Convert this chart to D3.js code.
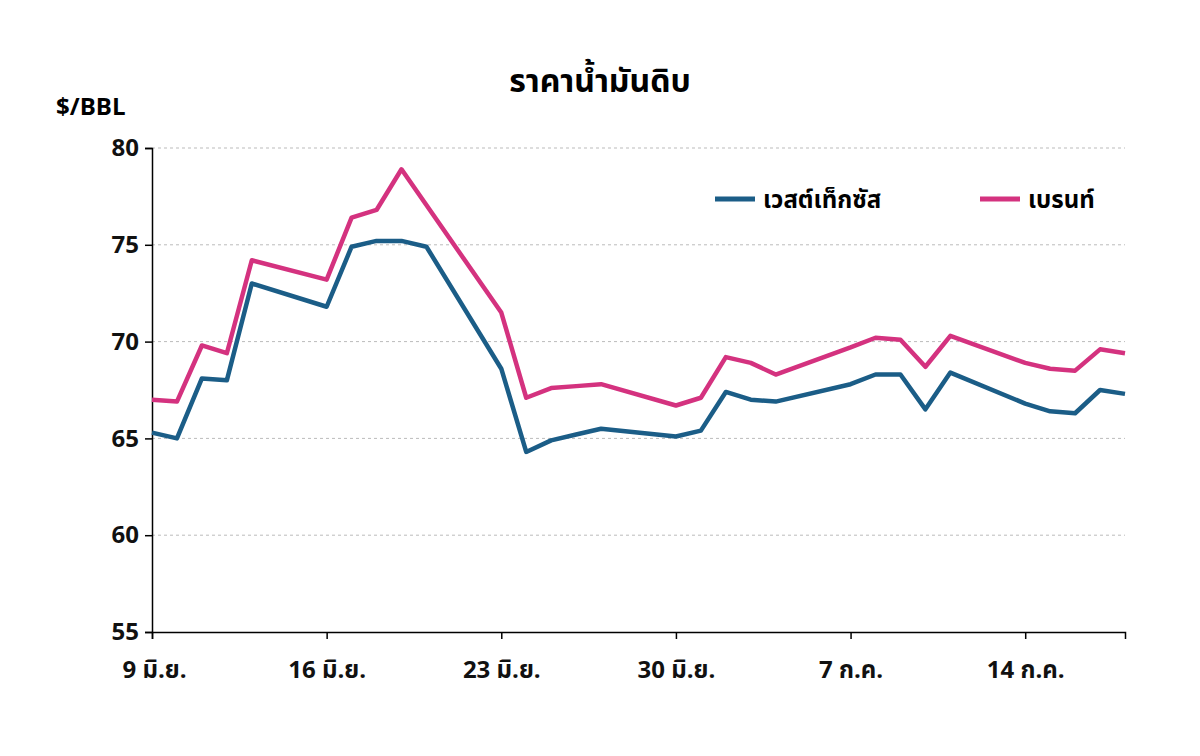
<!DOCTYPE html>
<html><head><meta charset="utf-8">
<script src="https://cdn.jsdelivr.net/npm/d3@7"></script>
<style>body{margin:0;background:#fff}text{font-family:"Noto Sans Thai","Noto Sans",sans-serif;font-weight:bold}</style>
</head><body>
<svg id="c" width="1200" height="756"></svg>
<script>
// day offsets from 9 Jun
const days = [0,1,2,3,4,7,8,9,10,11,14,15,16,17,18,21,22,23,24,25,28,29,30,31,32,35,36,37,38,39];
const wti =   [65.3,65.0,68.1,68.0,73.0,71.8,74.9,75.2,75.2,74.9,68.6,64.3,64.9,65.2,65.5,65.1,65.4,67.4,67.0,66.9,67.8,68.3,68.3,66.5,68.4,66.8,66.4,66.3,67.5,67.3];
const brent = [67.0,66.9,69.8,69.4,74.2,73.2,76.4,76.8,78.9,null,71.5,67.1,67.6,67.7,67.8,66.7,67.1,69.2,68.9,68.3,69.7,70.2,70.1,68.7,70.3,68.9,68.6,68.5,69.6,69.4];
const tickDays = [0,7,14,21,28,35];
const tickLabels = ["9 มิ.ย.","16 มิ.ย.","23 มิ.ย.","30 มิ.ย.","7 ก.ค.","14 ก.ค."];
const yTicks = [55,60,65,70,75,80];

const svg = d3.select("#c");
const x = d3.scaleLinear().domain([0,39]).range([152,1125]);
const y = d3.scaleLinear().domain([55,80]).range([632,148]);

// gridlines
svg.append("g").selectAll("line").data(yTicks.slice(1)).join("line")
  .attr("x1",152).attr("x2",1125).attr("y1",d=>y(d)).attr("y2",d=>y(d))
  .attr("stroke","#bbb").attr("stroke-dasharray","3,3");

const ya = svg.append("g").attr("transform","translate(152,0)")
  .call(d3.axisLeft(y).tickValues(yTicks).tickSize(7).tickPadding(6));
const xa = svg.append("g").attr("transform","translate(0,632)")
  .call(d3.axisBottom(x).tickValues(tickDays).tickSize(7).tickPadding(22).tickFormat((d,i)=>tickLabels[i]));
[ya,xa].forEach(a=>{a.select(".domain").attr("stroke","#000").attr("stroke-width",1.5);
  a.selectAll("line").attr("stroke","#000").attr("stroke-width",1.5);
  a.selectAll("text").attr("font-size",24).attr("fill","#111");});
xa.selectAll("text").attr("text-anchor",(d,i)=>i==0?"start":"middle").attr("dx",(d,i)=>i==0?-30:0);

const line = d3.line().x(d=>x(d[0])).y(d=>y(d[1]));
function series(vals,color){
  const pts = days.map((d,i)=>[d,vals[i]]).filter(p=>p[1]!=null);
  svg.append("path").attr("d",line(pts)).attr("fill","none")
    .attr("stroke",color).attr("stroke-width",4.5).attr("stroke-linejoin","round");
}
series(brent,"#d4327f");
series(wti,"#1b5d87");

svg.append("text").attr("x",600).attr("y",92).attr("text-anchor","middle").attr("font-size",32).text("ราคาน้ำมันดิบ");
svg.append("text").attr("x",56).attr("y",115).attr("font-size",24).text("$/BBL");

const leg = [["เวสต์เท็กซัส","#1b5d87",715],["เบรนท์","#d4327f",980]];
leg.forEach(l=>{
  svg.append("line").attr("x1",l[2]).attr("x2",l[2]+40).attr("y1",199).attr("y2",199).attr("stroke",l[1]).attr("stroke-width",5);
  svg.append("text").attr("x",l[2]+48).attr("y",208).attr("font-size",24).text(l[0]);
});
</script>
</body></html>
